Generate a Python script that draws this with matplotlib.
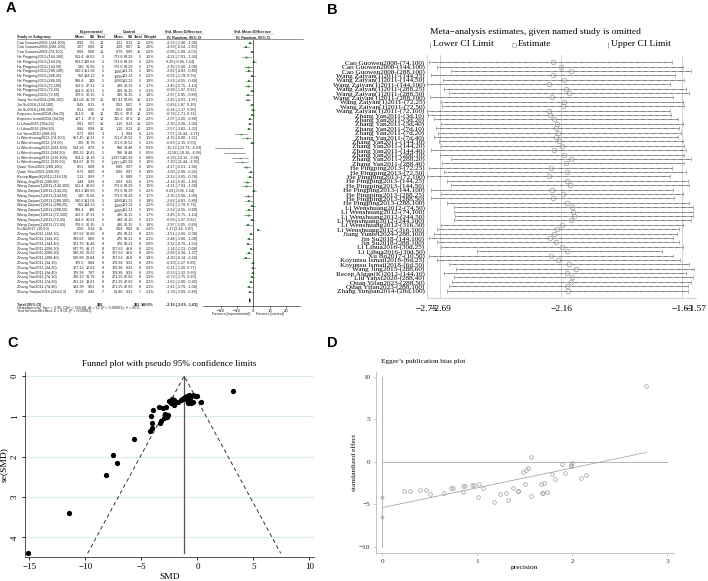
import numpy as np
import matplotlib.pyplot as plt

W, H = 708, 581
SANS = 'Liberation Sans'
SERIF = 'Liberation Serif'

# ---------------- panel A data (forest plot) ----------------
study_a = [
    "Cao Guowen2008-(144,100)", "Cao Guowen2008-(288,100)", "Cao Guowen2008-(74,100)",
    "He Pingping2013-(144,100)", "He Pingping2013-(144,25)", "He Pingping2013-(144,50)",
    "He Pingping2013-(288,100)", "He Pingping2013-(288,25)", "He Pingping2013-(288,50)",
    "He Pingping2013-(72,100)", "He Pingping2013-(72,25)", "He Pingping2013-(72,50)",
    "Jiang Yunfei2024-(288,100)", "Jin Su2018-(144,100)", "Jin Su2018-(288,100)",
    "Koyunsu Ismail2018-(6d,25)", "Koyunsu Ismail2018-(6d,50)",
    "Li Lihua2016-(30d,25)", "Li Lihua2016-(30d,50)", "Liu Yanxi2020-(288,40)",
    "Li Wenshuang2012-(74,100)", "Li Wenshuang2012-(74,50)", "Li Wenshuang2012-(244,100)",
    "Li Wenshuang2012-(244,50)", "Li Wenshuang2012-(316,100)", "Li Wenshuang2012-(316,50)",
    "Quan Yifan2023-(288,100)", "Quan Yifan2023-(288,50)", "Recep Algan(K)2012-(144,10)",
    "Wang Jing2015-(288,60)",
    "Wang Zaiyan(1)2011-(144,100)", "Wang Zaiyan(1)2011-(144,25)", "Wang Zaiyan(1)2011-(144,50)",
    "Wang Zaiyan(1)2011-(288,100)", "Wang Zaiyan(1)2011-(288,25)", "Wang Zaiyan(1)2011-(288,50)",
    "Wang Zaiyan(1)2011-(72,100)", "Wang Zaiyan(1)2011-(72,25)", "Wang Zaiyan(1)2011-(72,50)",
    "Xu Bo2017-(10,50)",
    "Zhang Yan2011-(144,10)", "Zhang Yan2011-(144,20)", "Zhang Yan2011-(144,40)",
    "Zhang Yan2011-(288,10)", "Zhang Yan2011-(288,20)", "Zhang Yan2011-(288,40)",
    "Zhang Yan2011-(3d,10)", "Zhang Yan2011-(3d,20)", "Zhang Yan2011-(3d,40)",
    "Zhang Yan2011-(7d,10)", "Zhang Yan2011-(7d,20)", "Zhang Yan2011-(7d,40)",
    "Zhang Yunjian2014-(28d,0.3)",
]
exp_mean = ["0.94", "1.07", "0.69", "511.4", "803.2", "510", "530.2", "962", "596.4", "363.6", "454.6", "376.6",
            "413.09", "0.43", "0.51", "251.6", "187.1", "0.91", "0.86", "0.71", "657.45", "726", "514.34",
            "620.23", "504.2", "504.67", "0.51", "0.72", "3.11", "1.44",
            "511.4", "803.2", "510", "530.2", "962", "596.4", "363.6", "454.6", "376.6", "0.56",
            "387.62", "339.63", "321.75", "647.75", "586.38", "536.88", "176.5", "177.13", "176.38",
            "240.13", "211.13", "183.38", "37.09"]
exp_sd = ["0.1", "0.06", "0.08", "43.62", "136.66", "76.66", "161.04", "184.13", "139", "27.31", "46.61", "30.15",
          "46.79", "0.11", "0.05", "85", "37.3", "0.07", "0.08", "0.03", "18.31", "32.78", "9.76",
          "12.81", "13.16", "13.76", "0.08", "0.09", "0.69", "0.26",
          "43.62", "136.66", "76.66", "161.04", "184.13", "139", "27.31", "46.61", "30.15", "0.14",
          "38.66", "8.06", "15.46", "49.17", "23.52", "21.84", "9.84", "10.01", "7.87",
          "31.79", "13.81", "9.61", "4.42"]
exp_n = [10, 10, 10, 5, 5, 5, 5, 5, 5, 5, 5, 5, 10, 9, 9, 10, 10, 10, 10, 6, 5, 5, 5, 5, 5, 5, 6, 6, 7, 6,
         5, 5, 5, 5, 5, 5, 5, 5, 5, 36, 8, 8, 8, 8, 8, 8, 8, 8, 8, 8, 8, 8, 7]
ctl_mean = ["1.21", "1.39", "0.79", "773.6", "773.6", "773.6", "1,065", "1,065", "1,065", "486", "486", "486",
            "587.41", "0.52", "0.52", "315.6", "315.6", "1.15", "1.15", "1", "751.6", "751.6", "996",
            "996", "1,197.5", "1,197.5", "0.86", "0.86", "5", "2.63",
            "773.6", "773.6", "773.6", "1,065", "1,065", "1,065", "486", "486", "486", "0.04",
            "476", "476", "476", "707.63", "707.63", "707.63", "179.38", "179.38", "179.38",
            "271.25", "271.25", "271.25", "51.48"]
ctl_sd = ["0.13", "0.07", "0.09", "63.29", "63.29", "63.29", "181.31", "181.31", "181.31", "36.15", "36.15", "36.15",
          "50.06", "0.07", "0.08", "67.9", "67.9", "0.13", "0.13", "0.04", "22.52", "22.52", "39.48",
          "39.48", "105.98", "105.98", "0.07", "0.07", "0.89", "0.25",
          "63.29", "63.29", "63.29", "181.31", "181.31", "181.31", "36.15", "36.15", "36.15", "0.02",
          "63.21", "63.21", "63.21", "49.8", "49.8", "49.8", "9.33", "9.33", "9.33",
          "47.63", "47.63", "47.63", "9.31"]
ctl_n = exp_n
weight = [2.2, 2.0, 2.2, 1.5, 2.2, 1.7, 1.8, 2.2, 1.9, 1.7, 2.1, 1.8, 2.1, 2.2, 2.2, 2.3, 2.2, 2.2, 2.2, 1.1,
          1.5, 2.1, 0.3, 0.5, 0.8, 1.0, 1.6, 1.9, 2.1, 1.7,
          1.5, 2.2, 1.7, 1.8, 2.2, 1.9, 1.7, 2.1, 1.8, 2.4,
          2.2, 2.1, 2.0, 2.2, 2.0, 1.8, 2.3, 2.3, 2.3, 2.3, 2.2, 2.1, 2.1]
smd = [-2.23, -4.69, -0.96, -4.31, 0.29, -3.35, -2.82, -0.51, -2.62, -3.45, -0.68, -2.97,
       -3.45, -0.89, -0.14, -0.79, -2.07, -2.20, -2.57, -7.57, -4.15, -0.83, -15.13,
       -11.58, -8.29, -7.20, -4.27, -1.60, -2.22, -4.14,
       -4.31, 0.29, -3.35, -2.82, -0.51, -2.62, -3.45, -0.68, -2.97, 3.17,
       -1.51, -2.44, -3.12, -1.14, -2.88, -4.20, -0.29, -0.21, -0.33, -0.73, -1.62, -2.41, -1.78]
ci_lo = [-3.40, -6.54, -1.89, -7.03, -0.96, -5.60, -4.83, -1.78, -4.55, -5.75, -1.97, -5.05,
         -4.93, -1.87, -1.17, -1.71, -3.20, -3.36, -3.82, -11.44, -6.80, -2.15, -23.73,
         -18.16, -13.12, -11.44, -6.61, -2.96, -3.65, -6.45,
         -7.03, -0.96, -5.60, -4.83, -1.78, -4.55, -5.75, -1.97, -5.05, 2.46,
         -2.66, -3.80, -4.70, -2.23, -4.38, -6.14, -1.27, -1.20, -1.32, -1.75, -2.80, -3.76, -3.09]
ci_hi = [-1.06, -2.83, -0.03, -1.58, 1.54, -1.09, -0.80, 0.76, -0.69, -1.14, 0.62, -0.89,
         -1.97, 0.10, 0.90, 0.13, -0.94, -1.04, -1.32, -3.71, -1.51, 0.50, -6.53,
         -4.99, -3.46, -2.96, -1.94, -0.24, -0.78, -1.83,
         -1.58, 1.54, -1.09, -0.80, 0.76, -0.69, -1.14, 0.62, -0.89, 3.87,
         -0.36, -1.08, -1.53, -0.06, -1.37, -2.26, 0.69, 0.77, 0.66, 0.30, -0.45, -1.06, -0.48]
total_n = (388, 382)
total_smd, total_lo, total_hi = -2.16, -2.69, -1.63

# ---------------- panel B data (leave-one-out) ----------------
study_b = (["Cao Guowen2008-(74,100)", "Cao Guowen2008-(144,100)", "Cao Guowen2008-(288,100)"]
           + ["Wang Zaiyan(1)2011-(144,25)", "Wang Zaiyan(1)2011-(144,50)", "Wang Zaiyan(1)2011-(144,100)",
              "Wang Zaiyan(1)2011-(288,25)", "Wang Zaiyan(1)2011-(288,50)", "Wang Zaiyan(1)2011-(288,100)",
              "Wang Zaiyan(1)2011-(72,25)", "Wang Zaiyan(1)2011-(72,50)", "Wang Zaiyan(1)2011-(72,100)"]
           + ["Zhang Yan2011-(3d,10)", "Zhang Yan2011-(3d,20)", "Zhang Yan2011-(3d,40)",
              "Zhang Yan2011-(7d,10)", "Zhang Yan2011-(7d,20)", "Zhang Yan2011-(7d,40)",
              "Zhang Yan2011-(144,10)", "Zhang Yan2011-(144,20)", "Zhang Yan2011-(144,40)",
              "Zhang Yan2011-(288,10)", "Zhang Yan2011-(288,20)", "Zhang Yan2011-(288,40)"]
           + ["He Pingping2013-(72,25)", "He Pingping2013-(72,50)", "He Pingping2013-(72,100)",
              "He Pingping2013-(144,25)", "He Pingping2013-(144,50)", "He Pingping2013-(144,100)",
              "He Pingping2013-(288,25)", "He Pingping2013-(288,50)", "He Pingping2013-(288,100)"]
           + ["Li Wenshuang2012-(74,50)", "Li Wenshuang2012-(74,100)", "Li Wenshuang2012-(244,50)",
              "Li Wenshuang2012-(244,100)", "Li Wenshuang2012-(316,50)", "Li Wenshuang2012-(316,100)"]
           + ["Jiang Yunfei2024-(288,100)", "Jin Su2018-(144,100)", "Jin Su2018-(288,100)",
              "Li Lihua2016-(30d,25)", "Li Lihua2016-(30d,50)", "Xu Bo2017-(10,50)",
              "Koyunsu Ismail2018-(6d,25)", "Koyunsu Ismail2018-(6d,50)", "Wang Jing2015-(288,60)",
              "Recep Algan(K)2012-(144,10)", "Liu Yanxi2020-(288,40)", "Quan Yifan2023-(288,50)",
              "Quan Yifan2023-(288,100)", "Zhang Yunjian2014-(28d,100)"])
loo_lo = [-2.740, -2.704, -2.645, -2.733, -2.677, -2.748, -2.674, -2.653, -2.736, -2.686, -2.682, -2.748, -2.745,
          -2.718, -2.686, -2.711, -2.701, -2.718, -2.696, -2.686, -2.730, -2.692, -2.645, -2.682, -2.740,
          -2.674, -2.750, -2.660, -2.645, -2.730, -2.686, -2.733, -2.660, -2.631, -2.631, -2.628, -2.631,
          -2.686, -2.704, -2.718, -2.740, -2.707, -2.689, -2.531, -2.740, -2.704, -2.653, -2.623, -2.674,
          -2.631, -2.638, -2.653, -2.660]
loo_est = [-2.196, -2.163, -2.116, -2.195, -2.148, -2.214, -2.141, -2.126, -2.199, -2.148, -2.151, -2.212,
           -2.211, -2.192, -2.177, -2.185, -2.174, -2.185, -2.170, -2.155, -2.192, -2.148, -2.119, -2.141,
           -2.207, -2.137, -2.214, -2.134, -2.122, -2.199, -2.151, -2.195, -2.134, -2.112, -2.109, -2.104,
           -2.119, -2.155, -2.177, -2.192, -2.209, -2.185, -2.155, -2.134, -2.204, -2.174, -2.126, -2.097,
           -2.134, -2.112, -2.119, -2.134, -2.131]
loo_hi = [-1.673, -1.629, -1.590, -1.663, -1.622, -1.683, -1.615, -1.600, -1.669, -1.625, -1.622, -1.683,
          -1.680, -1.651, -1.629, -1.644, -1.637, -1.647, -1.629, -1.622, -1.615, -1.622, -1.593, -1.622,
          -1.673, -1.615, -1.683, -1.607, -1.600, -1.669, -1.625, -1.666, -1.600, -1.585, -1.584, -1.581,
          -1.590, -1.629, -1.644, -1.654, -1.669, -1.644, -1.629, -1.717, -1.669, -1.639, -1.600, -1.578,
          -1.615, -1.585, -1.590, -1.607, -1.607]
loo_ticks = [-2.75, -2.69, -2.16, -1.63, -1.57]

# ---------------- panel C data (funnel) ----------------
funnel_smd = [3.16, -15.1, -11.5, -8.2, -7.5, -7.15, -5.7,
              -4.22, -4.07, -4.07, -4.1, -3.98, -3.39, -3.34, -3.28, -3.04, -2.88, -2.97, -2.73, -2.6,
              -2.79, -2.5, -2.37, -2.25, -2.13, -2.08, -2.13, -1.7, -1.5, -1.33, -1.2, -1.1, -0.95,
              -0.77, -1.0, -0.65, -0.8, -0.59, -0.41, -0.2, -0.06, -0.35, 0.3, -0.9, -0.7]
funnel_se = [0.36, 4.38, 3.39, 2.46, 1.97, 2.17, 1.55,
             1.36, 1.30, 1.16, 0.98, 0.84, 0.76, 1.16, 1.11, 0.80, 0.95, 1.05, 1.01, 0.96,
             0.78, 0.62, 0.66, 0.58, 0.72, 0.63, 0.60, 0.64, 0.60, 0.56, 0.54, 0.52, 0.50,
             0.47, 0.53, 0.53, 0.68, 0.66, 0.64, 0.50, 0.50, 0.48, 0.64, 0.60, 0.55]
funnel_pooled = -1.18
funnel_se_max = 4.4

# ---------------- panel D data (Egger) ----------------
egger_prec = [0.23, 0.295, 0.40, 0.46, 0.505, 0.646, 0.723, 0.744, 0.846, 0.853, 0.874, 0.941, 0.969,
              1.018, 1.011, 1.063, 1.179, 1.239, 1.298, 1.327, 1.372, 1.425, 1.43, 1.481, 1.51, 1.53,
              1.50, 1.57, 1.57, 1.667, 1.705, 1.677, 1.69, 1.73, 1.79, 1.82, 1.895, 1.92, 1.986, 1.99,
              2.0, 2.09, 2.14, 2.78]
egger_std = [-3.41, -3.41, -3.35, -3.35, -3.80, -3.72, -3.06, -3.06, -3.53, -2.86, -2.86, -2.75, -2.71,
             -2.67, -4.19, -3.13, -4.74, -3.76, -3.72, -4.54, -3.06, -3.41, -3.41, -1.21, -0.98, -0.74,
             -2.60, 0.52, -3.98, -2.64, -2.52, -3.64, -3.64, -3.53, -1.48, -2.03, -0.29, -1.33, -0.55,
             -0.43, -0.16, -1.97, -1.62, 8.9]
egger_ci = [-4.2, -6.55]
egger_b0, egger_b1 = -5.41, 2.34

fig = plt.figure(figsize=(7.08, 5.81), dpi=100)


def px_axes(l, t, r, b):
    return fig.add_axes([l / W, 1 - b / H, (r - l) / W, (b - t) / H])


# overlay in pixel units for table text and legend pieces
axO = fig.add_axes([0, 0, 1, 1])
axO.set_xlim(0, W)
axO.set_ylim(H, 0)
axO.axis('off')


def otext(x, y, s, **kw):
    kw.setdefault('va', 'center')
    axO.text(x, y, s, **kw)


for lab, (x, y) in zip("ABCD", [(11, 8.5), (332.5, 9.5), (12.5, 343.3), (332.5, 343.3)]):
    otext(x, y, lab, ha='center', fontsize=10.5, fontweight='bold', family=SANS)

# ---------------- A: table ----------------
fa = dict(fontsize=2.7, family=SANS, color='#222222')
col_r = [84, 95, 103.5, 123, 133, 140.5, 154]
ci_x = 166
otext(91, 32.3, "Experimental", ha='center', fontweight='bold', **fa)
otext(129, 32.3, "Control", ha='center', fontweight='bold', **fa)
otext(184, 32.3, "Std. Mean Difference", ha='center', fontweight='bold', **fa)
otext(253, 32.3, "Std. Mean Difference", ha='center', fontweight='bold', **fa)
for x0, x1 in [(75, 107), (113, 146), (163, 205), (232, 274)]:
    axO.plot([x0, x1], [34.4, 34.4], color='#999999', lw=0.3)
otext(17, 37.2, "Study or Subgroup", ha='left', fontweight='bold', **fa)
for x, h in zip([84, 95, 106, 123, 133, 143, 156.5], ["Mean", "SD", "Total", "Mean", "SD", "Total", "Weight"]):
    otext(x, 37.2, h, ha='right', fontweight='bold', **fa)
otext(184, 37.2, "IV, Random, 95% CI", ha='center', fontweight='bold', **fa)
otext(253, 37.2, "IV, Random, 95% CI", ha='center', fontweight='bold', **fa)
axO.plot([17, 303], [39.4, 39.4], color='#444444', lw=0.4)

for i, name in enumerate(study_a):
    y = 42.6 + 4.79 * i
    otext(17, y, name, ha='left', **fa)
    vals = [exp_mean[i], exp_sd[i], str(exp_n[i]), ctl_mean[i], ctl_sd[i], str(ctl_n[i]), f"{weight[i]:.1f}%"]
    for x, v in zip(col_r, vals):
        otext(x, y, v, ha='right', **fa)
    otext(ci_x, y, f"{smd[i]:.2f} [{ci_lo[i]:.2f}, {ci_hi[i]:.2f}]", ha='left', **fa)

otext(17, 305, "Total (95% CI)", ha='left', fontweight='bold', **fa)
otext(col_r[2], 305, str(total_n[0]), ha='right', fontweight='bold', **fa)
otext(col_r[5], 305, str(total_n[1]), ha='right', fontweight='bold', **fa)
otext(col_r[6], 305, "100.0%", ha='right', fontweight='bold', **fa)
otext(ci_x, 305, f"{total_smd:.2f} [{total_lo:.2f}, {total_hi:.2f}]", ha='left', fontweight='bold', **fa)
otext(17, 308.3, "Heterogeneity: Tau\u00b2 = 2.95; Chi\u00b2 = 350.68, df = 52 (P < 0.00001); I\u00b2 = 85%",
      ha='left', **fa)
otext(17, 311.4, "Test for overall effect: Z = 8.01 (P < 0.00001)", ha='left', **fa)
otext(250, 313.5, "Favours [experimental]", ha='right', **fa)
otext(256, 313.5, "Favours [control]", ha='left', **fa)

# ---------------- A: forest graph ----------------
axF = px_axes(203, 40, 300, 305.7)
axF.set_xlim(-30.86, 28.65)
axF.set_ylim(54.9, -0.55)
axF.patch.set_visible(False)
for i in range(len(smd)):
    axF.plot([ci_lo[i], ci_hi[i]], [i, i], color='#7d7d7d', lw=0.5)
    axF.plot(smd[i], i, 's', color='#2f8f2f', ms=0.5 + weight[i] * 0.55, mew=0)
ty = 53.8
axF.fill([total_lo, total_smd, total_hi, total_smd], [ty, ty - 0.6, ty, ty + 0.6], color='k', lw=0)
axF.axvline(0, color='#222222', lw=0.5)
for s in ['top', 'right', 'left']:
    axF.spines[s].set_visible(False)
axF.spines['bottom'].set_linewidth(0.4)
axF.set_yticks([])
axF.set_xticks([-20, -10, 0, 10, 20])
axF.tick_params(axis='x', labelsize=2.7, length=1.5, width=0.4, pad=0.8)

# ---------------- B: leave-one-out ----------------
axB = px_axes(426.7, 55, 696, 298)
axB.set_xlim(-2.75, -1.57)
axB.set_ylim(53.67, -1.66)
for v in loo_ticks:
    axB.axvline(v, color='#d4d4d4', lw=0.7, zorder=0)
for i in range(len(loo_est)):
    axB.plot([loo_lo[i], loo_hi[i]], [i, i], color='k', lw=0.6, ls=(0, (0.7, 0.7)))
    axB.plot([loo_lo[i], loo_hi[i]], [i, i], '|', color='#9a9a9a', ms=3.5, mew=0.5, clip_on=False)
    axB.plot(loo_est[i], i, 'o', mfc='none', mec='#9a9a9a', ms=3.3, mew=0.5)
for s in ['top', 'right', 'left']:
    axB.spines[s].set_visible(False)
axB.spines['bottom'].set_color('#d4d4d4')
axB.set_xticks(loo_ticks)
axB.set_xticklabels([f"{v:.2f}".replace('-', '\u2212') for v in loo_ticks], family=SERIF, fontsize=6.8)
axB.set_yticks(range(len(study_b)))
axB.set_yticklabels(study_b, family=SERIF, fontsize=5.2)
axB.tick_params(axis='x', length=0, pad=5)
axB.tick_params(axis='y', length=0, pad=1.5)
fb = dict(family=SERIF, fontsize=6.8)
otext(430, 32, "Meta\u2212analysis estimates, given named study is omitted", ha='left', **fb)
axO.plot([430], [44.5], '|', color='#9a9a9a', ms=5, mew=0.6)
otext(433, 44.5, "Lower CI Limit", ha='left', **fb)
axO.plot([514], [44.5], 'o', mfc='none', mec='#9a9a9a', ms=3.3, mew=0.5)
otext(517.5, 44.5, "Estimate", ha='left', **fb)
axO.plot([608], [44.5], '|', color='#9a9a9a', ms=5, mew=0.6)
otext(611, 44.5, "Upper CI Limit", ha='left', **fb)

# ---------------- C: funnel ----------------
axC = px_axes(25, 372, 314, 557)
axC.set_xlim(-15.39, 10.41)
axC.set_ylim(4.49, -0.1)
axC.set_yticks([0, 1, 2, 3, 4])
axC.set_xticks([-15, -10, -5, 0, 5, 10])
axC.grid(axis='y', color='#d9ebea', lw=0.8)
axC.set_axisbelow(True)
z = 1.96
axC.plot([funnel_pooled - z * funnel_se_max, funnel_pooled, funnel_pooled + z * funnel_se_max],
         [funnel_se_max, 0, funnel_se_max], color='#333333', lw=0.7, ls=(0, (4, 3)))
axC.plot([funnel_pooled, funnel_pooled], [0, funnel_se_max], color='#555555', lw=0.9)
axC.plot(funnel_smd, funnel_se, 'o', color='k', ms=3.8, mew=0)
for s in ['top', 'right']:
    axC.spines[s].set_visible(False)
for s in ['left', 'bottom']:
    axC.spines[s].set_linewidth(0.6)
    axC.spines[s].set_color('#333333')
axC.tick_params(labelsize=6.5, length=2.5, width=0.6, pad=2)
for t in axC.get_xticklabels() + axC.get_yticklabels():
    t.set_family(SERIF)
for t in axC.get_yticklabels():
    t.set_rotation(90)
    t.set_va('center')
axC.set_xlabel("SMD", family=SERIF, fontsize=6.8, labelpad=1)
axC.set_ylabel("se(SMD)", family=SERIF, fontsize=6.8, labelpad=2)
axC.set_title("Funnel plot with pseudo 95% confidence limits", family=SERIF, fontsize=6.6, pad=4)

# ---------------- D: Egger ----------------
axD = px_axes(375.7, 371.7, 674, 553.3)
axD.set_xlim(-0.069, 3.07)
axD.set_ylim(-10.78, 10.59)
axD.plot([0, 0], [-10, 10], color='#aaaaaa', lw=0.6)
axD.plot([0, 3], [0, 0], color='#aaaaaa', lw=0.6)
xr = max(egger_prec)
axD.plot([0, xr], [egger_b0, egger_b0 + egger_b1 * xr], color='#aaaaaa', lw=0.6)
axD.plot(egger_prec, egger_std, 'o', mfc='none', mec='#9a9a9a', ms=2.6, mew=0.5)
axD.plot([0] * len(egger_ci), egger_ci, 'D', mfc='none', mec='#9a9a9a', ms=1.8, mew=0.5)
for s in ['top', 'right']:
    axD.spines[s].set_visible(False)
for s in ['left', 'bottom']:
    axD.spines[s].set_linewidth(0.6)
    axD.spines[s].set_color('#bbbbbb')
axD.set_xticks([0, 1, 2, 3])
axD.set_yticks([-10, -5, 0, 5, 10])
axD.tick_params(labelsize=5.2, length=2.5, width=0.5, color='#bbbbbb', labelcolor='#333333', pad=1.5)
for t in axD.get_xticklabels() + axD.get_yticklabels():
    t.set_family(SERIF)
axD.set_xlabel("precision", family=SERIF, fontsize=5.4, labelpad=0.5)
axD.set_ylabel("standardized effect", family=SERIF, fontsize=5.4, labelpad=1.5)
otext(381, 361, "Egger\u2019s publication bias plot", ha='left', family=SERIF, fontsize=5.2)

fig.savefig("out.png", dpi=100)
